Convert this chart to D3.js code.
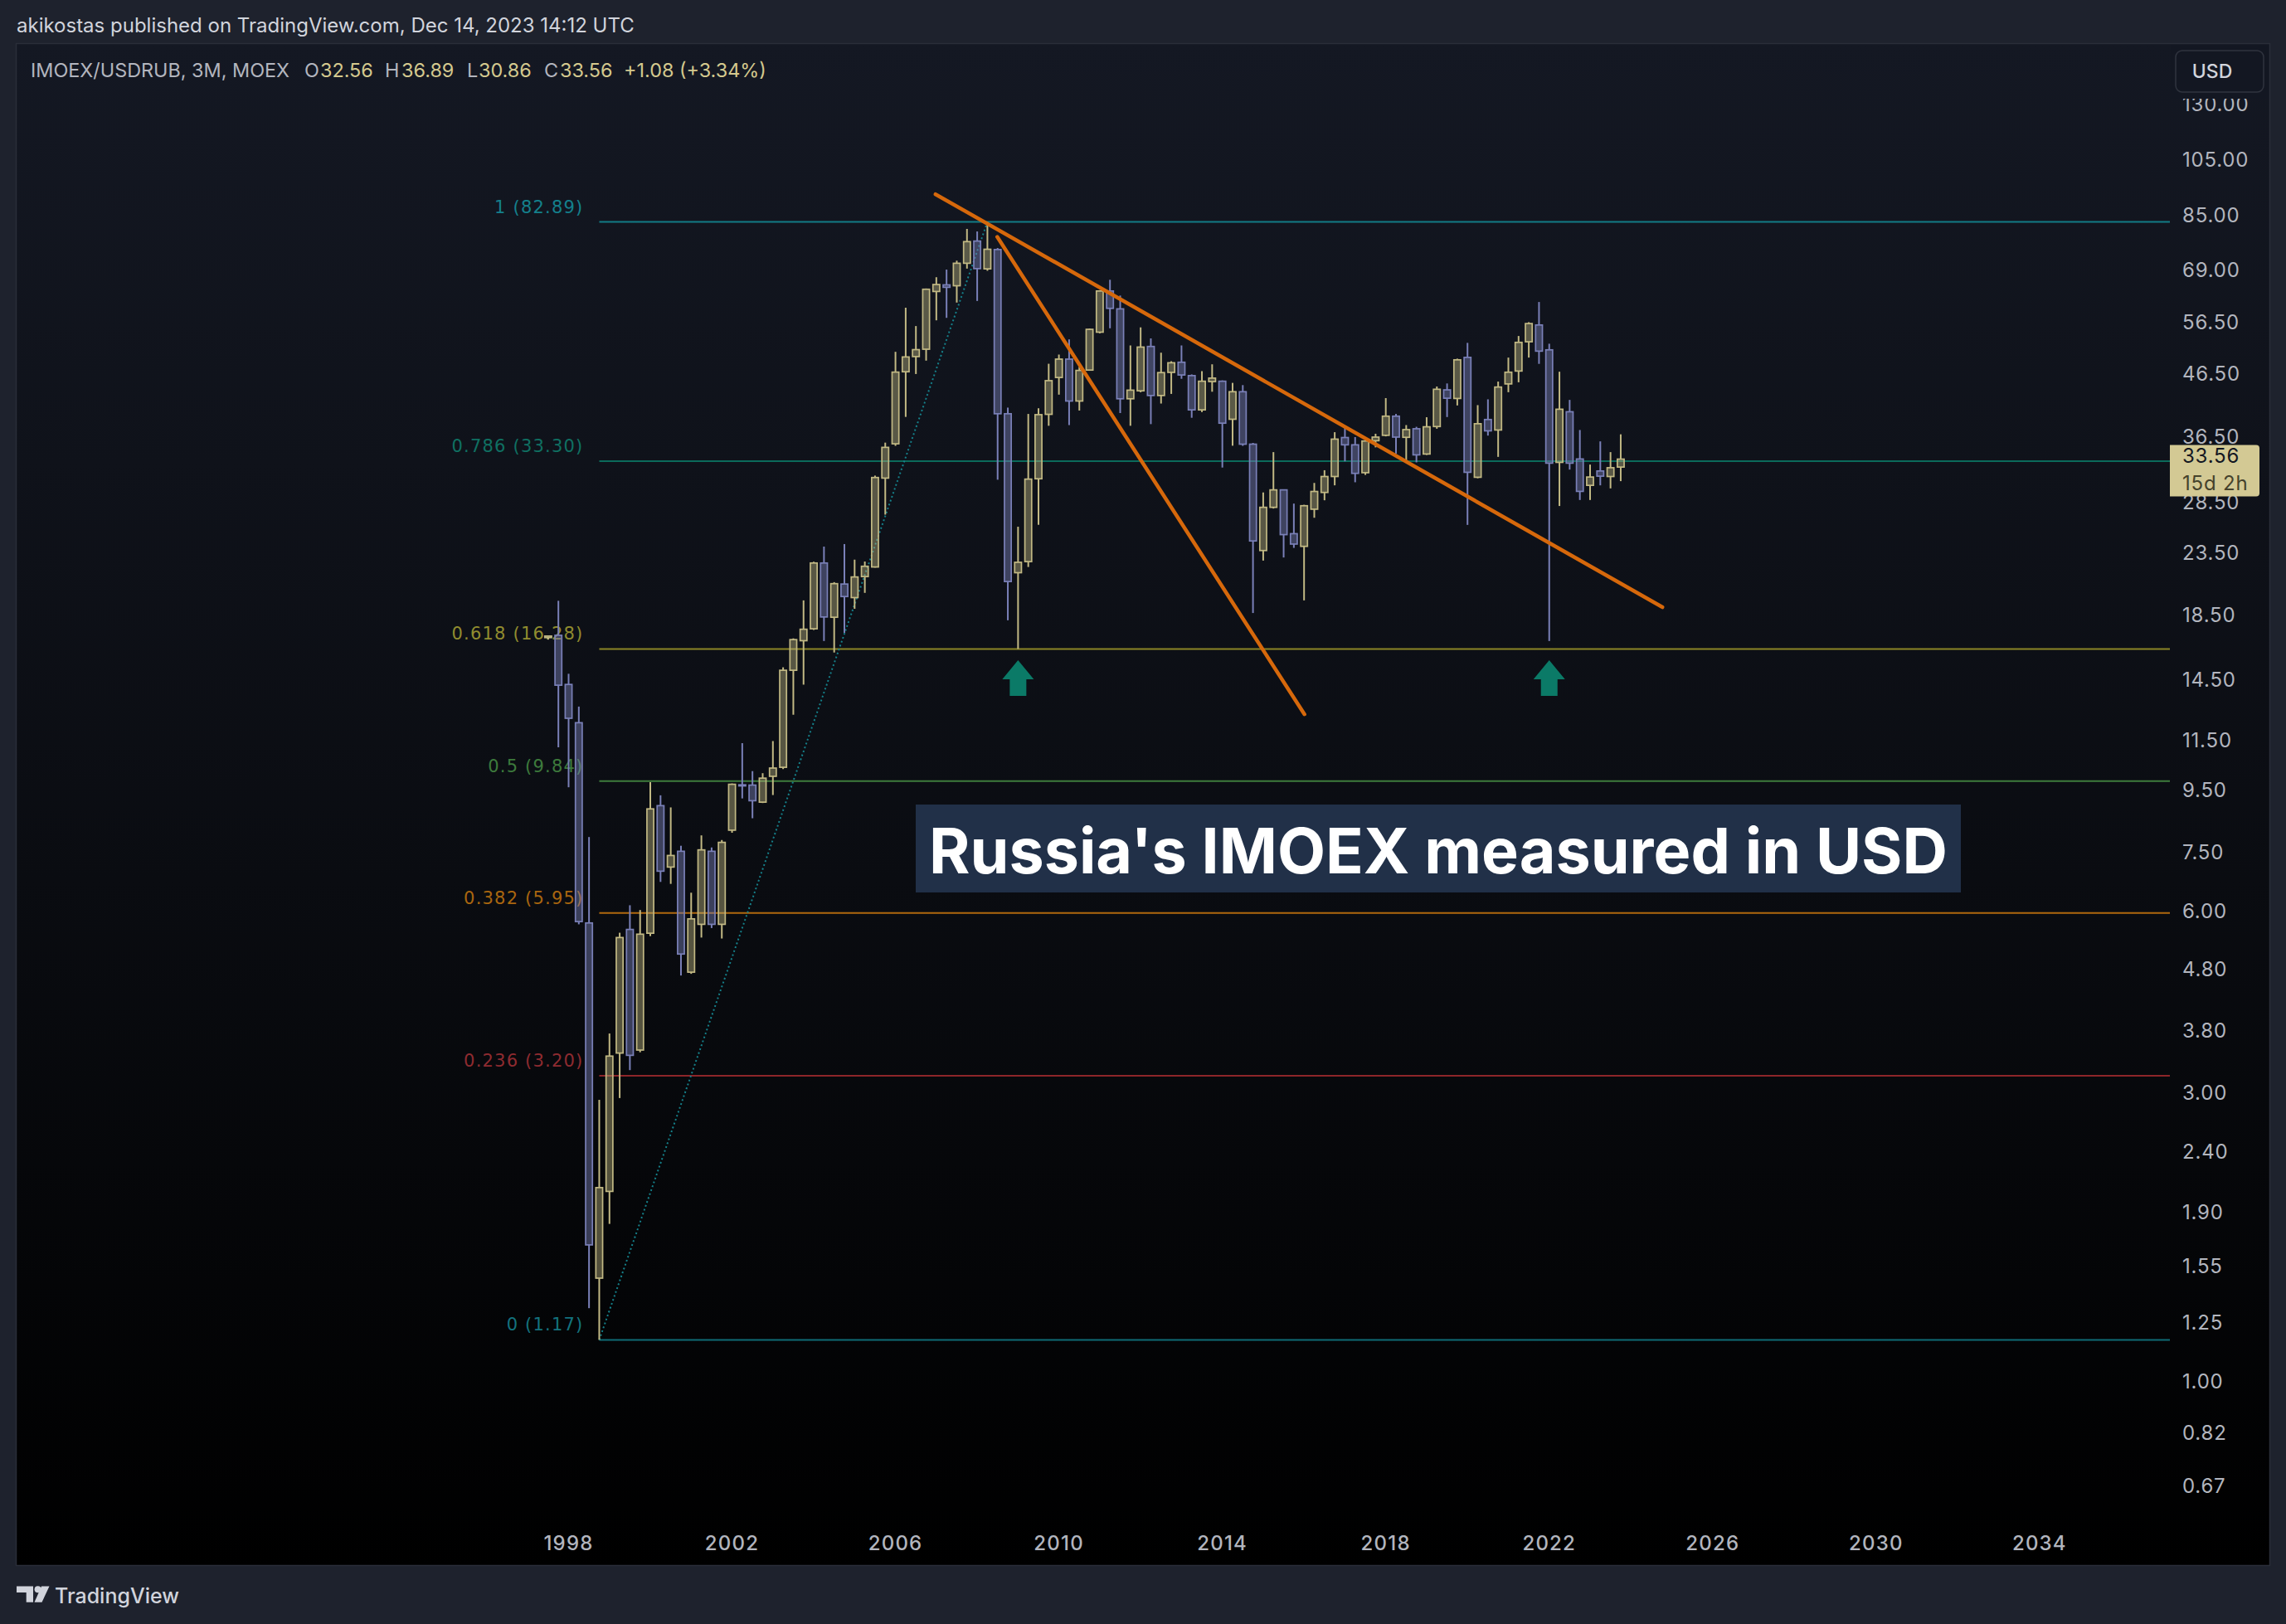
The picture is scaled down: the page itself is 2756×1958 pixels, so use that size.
<!DOCTYPE html>
<html><head><meta charset="utf-8">
<script src="https://cdn.jsdelivr.net/npm/d3@7"></script>
<style>html,body{margin:0;padding:0;background:#1e222d;} svg{display:block;}</style>
</head><body><svg id="c" width="2756" height="1958"></svg>
<script>
// ---------------- DATA ----------------
const quarters = ["1997Q3","1997Q4","1998Q1","1998Q2","1998Q3","1998Q4","1999Q1","1999Q2","1999Q3","1999Q4",
"2000Q1","2000Q2","2000Q3","2000Q4","2001Q1","2001Q2","2001Q3","2001Q4","2002Q1","2002Q2","2002Q3","2002Q4",
"2003Q1","2003Q2","2003Q3","2003Q4","2004Q1","2004Q2","2004Q3","2004Q4","2005Q1","2005Q2","2005Q3","2005Q4",
"2006Q1","2006Q2","2006Q3","2006Q4","2007Q1","2007Q2","2007Q3","2007Q4","2008Q1","2008Q2","2008Q3","2008Q4",
"2009Q1","2009Q2","2009Q3","2009Q4","2010Q1","2010Q2","2010Q3","2010Q4","2011Q1","2011Q2","2011Q3","2011Q4",
"2012Q1","2012Q2","2012Q3","2012Q4","2013Q1","2013Q2","2013Q3","2013Q4","2014Q1","2014Q2","2014Q3","2014Q4",
"2015Q1","2015Q2","2015Q3","2015Q4","2016Q1","2016Q2","2016Q3","2016Q4","2017Q1","2017Q2","2017Q3","2017Q4",
"2018Q1","2018Q2","2018Q3","2018Q4","2019Q1","2019Q2","2019Q3","2019Q4","2020Q1","2020Q2","2020Q3","2020Q4",
"2021Q1","2021Q2","2021Q3","2021Q4","2022Q1","2022Q2","2022Q3","2022Q4","2023Q1","2023Q2","2023Q3","2023Q4"];
const opens = [17.0,17.15,14.22,12.29,5.73,1.48,2.06,3.49,5.59,3.53,
5.51,8.96,7.09,7.53,4.75,5.70,7.53,5.70,8.16,9.70,9.69,9.08,
10.02,10.37,15.01,16.80,17.58,22.59,18.37,20.85,19.80,21.45,22.25,31.22,
35.58,46.82,49.61,51.02,63.58,65.20,64.98,70.80,77.05,69.30,74.60,39.90,
21.77,22.71,31.14,39.81,45.81,49.13,41.88,47.12,54.45,63.70,59.50,42.24,
43.54,51.56,42.77,46.71,48.55,46.14,40.49,45.10,45.16,39.07,43.39,35.53,
23.69,27.93,29.85,25.26,24.07,27.73,29.56,31.41,36.44,35.44,31.87,36.00,
36.75,39.53,36.47,37.68,34.22,38.00,43.70,42.29,49.46,31.32,39.03,37.50,
44.70,46.95,52.49,55.96,50.90,33.15,40.20,33.58,30.37,32.08,31.41,32.56];
const highs = [17.14,19.56,14.81,13.07,7.95,2.92,3.76,5.52,6.13,6.02,
9.80,9.32,8.90,7.69,6.43,8.00,7.64,7.86,9.75,11.37,10.22,10.14,
11.46,15.18,16.95,19.59,22.70,24.05,21.00,24.28,22.88,22.72,31.52,35.74,
50.52,59.77,55.73,64.30,67.13,69.11,71.50,80.70,79.92,82.89,75.03,40.84,
25.94,39.87,40.74,48.27,49.99,52.97,47.69,55.20,63.90,66.48,62.60,51.76,
55.45,53.17,50.35,48.74,51.76,46.35,46.93,48.17,45.30,44.88,44.50,35.70,
29.56,34.47,29.90,28.33,28.20,30.65,32.17,37.19,37.88,36.50,36.10,36.97,
42.35,39.87,38.21,37.96,39.37,44.26,44.78,49.22,52.27,41.23,42.15,45.10,
49.42,53.66,56.56,61.08,52.10,46.83,42.06,37.50,32.87,35.91,34.47,36.89];
const lows = [16.87,11.19,9.61,5.70,1.32,1.17,1.82,2.94,3.27,3.50,
5.45,6.70,6.65,4.69,4.72,5.42,5.62,5.40,8.08,9.21,8.54,9.05,
9.33,10.30,12.67,14.21,17.50,16.78,16.06,17.31,18.97,20.16,22.20,27.16,
35.30,39.42,46.42,48.85,56.96,57.50,60.95,69.37,61.32,68.80,31.03,18.16,
16.28,22.25,26.13,38.11,42.91,38.21,40.39,47.00,54.20,55.26,40.00,38.11,
43.30,38.35,41.48,43.03,45.58,39.29,40.15,43.39,32.50,35.32,35.30,18.67,
22.80,27.80,23.07,23.93,19.59,26.84,28.69,30.37,33.28,30.73,31.60,35.10,
36.60,34.27,33.15,33.15,34.10,37.68,39.40,41.18,26.12,31.20,36.71,33.85,
43.31,44.98,49.42,48.25,16.78,28.07,32.25,28.72,28.72,30.37,30.02,30.86];
const closes = [17.1,14.18,12.50,5.76,1.68,2.09,3.45,5.42,3.46,5.49,
8.85,6.98,7.41,5.09,5.82,7.57,5.70,7.79,9.72,9.66,9.13,9.95,
10.34,15.01,16.87,17.55,22.59,18.39,20.88,19.88,21.42,22.31,31.29,35.10,
46.76,49.54,50.94,64.12,65.29,64.60,70.80,76.88,69.37,74.68,39.90,21.05,
22.65,31.10,39.76,45.26,49.13,41.88,47.06,55.04,63.70,59.62,42.24,43.65,
51.44,42.77,46.67,48.45,46.25,40.49,45.16,45.70,38.49,43.39,35.53,24.57,
27.93,29.85,25.17,24.28,28.10,29.67,31.41,36.22,35.44,31.79,35.96,36.50,
39.53,36.50,37.56,34.11,37.96,43.80,42.33,49.00,31.92,38.41,37.38,44.17,
46.74,52.37,56.26,50.65,33.05,40.59,33.05,29.68,31.35,31.45,32.48,33.564];

const priceTicks = [130,105,85,69,56.5,46.5,36.5,28.5,23.5,18.5,14.5,11.5,9.5,7.5,6.0,4.8,3.8,3.0,2.4,1.9,1.55,1.25,1.0,0.82,0.67];
const yearTicks = [1998,2002,2006,2010,2014,2018,2022,2026,2030,2034];

const fibLevels = ["1","0.786","0.618","0.5","0.382","0.236","0"];
const fibPrices = [82.89,33.30,16.28,9.84,5.95,3.20,1.17];
const fibLineColors = ["#127c86","#0b6a5b","#8c8626","#3e7d3c","#b0690e","#8d2529","#0f6c76"];
const fibTextColors = ["#14808c","#0f7062","#918c2f","#3d7a3c","#a9660f","#8e2b30","#13727e"];
const fibStart = {t:"1998Q4", p:1.17};
const fibEnd = {t:"2008Q2", p:82.89};

const trendStartT = [2006.98, 2008.49];
const trendStartP = [92.1, 78.3];
const trendEndT = [2024.77, 2016.01];
const trendEndP = [19.09, 12.69];

const arrowQuarters = ["2009Q1","2022Q1"];
const arrowPrice = 15.6;

const headerText = "akikostas published on TradingView.com, Dec 14, 2023 14:12 UTC";
const symbolText = "IMOEX/USDRUB, 3M, MOEX";
const titleText = "Russia's IMOEX measured in USD";
const countdownText = "15d 2h";

// ---------------- SETUP ----------------
const W = 2756, H = 1958;
const pane = {x0:20, y0:53, x1:2736, y1:1887};
const plotRight = 2616;
const svg = d3.select("#c");
const font = "Inter, 'Noto Sans', sans-serif";
const fmt = d3.format(".2f");
const qt = s => +s.slice(0,4) + (+s.slice(5)-1)/4;

const x = d3.scaleLinear().domain([1984.49, 2037.19]).range([pane.x0, plotRight]);
const y = d3.scaleLog().domain([0.4958, 163.3]).range([pane.y1, pane.y0]);

const defs = svg.append("defs");
const g = defs.append("linearGradient").attr("id","bg").attr("x1",0).attr("y1",0).attr("x2",0).attr("y2",1);
g.append("stop").attr("offset","0%").attr("stop-color","#141823");
g.append("stop").attr("offset","55%").attr("stop-color","#0a0c11");
g.append("stop").attr("offset","100%").attr("stop-color","#000000");
defs.append("clipPath").attr("id","plotclip").append("rect")
  .attr("x",pane.x0).attr("y",pane.y0).attr("width",plotRight-pane.x0).attr("height",pane.y1-pane.y0);

svg.append("rect").attr("width",W).attr("height",H).attr("fill","#1e222d");
svg.append("rect").attr("x",pane.x0-0.5).attr("y",pane.y0-0.5).attr("width",pane.x1-pane.x0+1).attr("height",pane.y1-pane.y0+1)
  .attr("fill","url(#bg)").attr("stroke","#2a2e39").attr("stroke-width",1.5);

// header
svg.append("text").attr("x",20).attr("y",39).attr("font-family",font).attr("font-size",24)
  .attr("fill","#d1d4dc").text(headerText);

// legend
const last = quarters.length-1;
const chg = closes[last]-closes[last-1];
const pct = chg/closes[last-1]*100;
const leg = svg.append("text").attr("y",93).attr("font-family",font).attr("font-size",23.4);
const legParts = [
  [37, symbolText, "#b2b5be"],
  [367, "O", "#b2b5be"], [386, fmt(opens[last]), "#d4c98e"],
  [464, "H", "#b2b5be"], [484, fmt(highs[last]), "#d4c98e"],
  [563, "L", "#b2b5be"], [577, fmt(lows[last]), "#d4c98e"],
  [656, "C", "#b2b5be"], [675, fmt(closes[last]), "#d4c98e"],
  [752, (chg>=0?"+":"")+fmt(chg)+" ("+(pct>=0?"+":"")+fmt(pct)+"%)", "#d4c98e"]
];
legParts.forEach(p=>leg.append("tspan").attr("x",p[0]).attr("fill",p[2]).text(p[1]));

// ---------------- FIB ----------------
const fx0 = x(qt(fibStart.t));
const fib = svg.append("g");
fib.selectAll("line").data(fibPrices).join("line")
  .attr("x1",fx0).attr("x2",plotRight).attr("y1",d=>y(d)).attr("y2",d=>y(d))
  .attr("stroke",(d,i)=>fibLineColors[i]).attr("stroke-width",2);
fib.selectAll("text").data(fibPrices).join("text")
  .attr("x",fx0-19).attr("y",d=>y(d)-11).attr("text-anchor","end")
  .attr("font-family","'DejaVu Sans', sans-serif").attr("font-size",21).attr("letter-spacing",1.2)
  .attr("fill",(d,i)=>fibTextColors[i]).text((d,i)=>fibLevels[i]+" ("+fmt(d)+")");
fib.append("line").attr("x1",fx0).attr("y1",y(fibStart.p)).attr("x2",x(qt(fibEnd.t))).attr("y2",y(fibEnd.p))
  .attr("stroke","#15808a").attr("stroke-width",2).attr("stroke-dasharray","2 3");

// ---------------- CANDLES ----------------
const bull = {stroke:"#c2b984", fill:"rgba(194,185,132,0.42)"};
const bear = {stroke:"#7a80b8", fill:"rgba(122,128,184,0.45)"};
const candles = quarters.map((q,i)=>({t:qt(q), o:opens[i], h:highs[i], l:lows[i], c:closes[i]}));
const cg = svg.append("g").attr("clip-path","url(#plotclip)");
const bw = 8.2;
const cs = cg.selectAll("g").data(candles).join("g");
cs.each(function(d){
  const s = d.c>=d.o ? bull : bear;
  const el = d3.select(this);
  const cx = x(d.t);
  const top = y(Math.max(d.o,d.c)), bot = y(Math.min(d.o,d.c));
  el.append("line").attr("x1",cx).attr("x2",cx).attr("y1",y(d.h)).attr("y2",top)
    .attr("stroke",s.stroke).attr("stroke-width",2);
  el.append("line").attr("x1",cx).attr("x2",cx).attr("y1",bot).attr("y2",y(d.l))
    .attr("stroke",s.stroke).attr("stroke-width",2);
  el.append("rect").attr("x",cx-bw/2).attr("y",top).attr("width",bw).attr("height",Math.max(bot-top,1))
    .attr("fill",s.fill).attr("stroke",s.stroke).attr("stroke-width",1.7);
});

// ---------------- TREND LINES ----------------
const tl = svg.append("g");
tl.selectAll("line").data(trendStartT).join("line")
  .attr("x1",(d)=>x(d)).attr("y1",(d,i)=>y(trendStartP[i]))
  .attr("x2",(d,i)=>x(trendEndT[i])).attr("y2",(d,i)=>y(trendEndP[i]))
  .attr("stroke","#d6680b").attr("stroke-width",4.5).attr("stroke-linecap","round");

// arrows
const ar = svg.append("g");
arrowQuarters.forEach(q=>{
  const ax = x(qt(q)), ay = y(arrowPrice);
  ar.append("path").attr("d",
    `M${ax},${ay} L${ax+19},${ay+23} L${ax+10},${ay+23} L${ax+10},${ay+43} L${ax-10},${ay+43} L${ax-10},${ay+23} L${ax-19},${ay+23} Z`)
    .attr("fill","#0b7a67");
});

// ---------------- AXES ----------------
const ya = svg.append("g");
ya.selectAll("text").data(priceTicks).join("text")
  .attr("x",2631).attr("y",d=>y(d)+8.5).attr("font-family",font).attr("font-size",24).attr("letter-spacing",0.8)
  .attr("fill","#b2b5be").text(d=>fmt(d));
const xa = svg.append("g");
xa.selectAll("text").data(yearTicks).join("text")
  .attr("x",d=>x(d)).attr("y",1869).attr("text-anchor","middle").attr("font-family",font)
  .attr("font-size",24).attr("letter-spacing",1.2).attr("font-weight",500).attr("fill","#b2b5be").text(d=>d);

// USD button (with backing that hides labels beneath it)
svg.append("rect").attr("x",2617).attr("y",54).attr("width",118).attr("height",65).attr("fill","#131722");
svg.append("rect").attr("x",2623).attr("y",61).attr("width",106).attr("height",50).attr("rx",8)
  .attr("fill","#131722").attr("stroke","#30343f").attr("stroke-width",1.5);
svg.append("text").attr("x",2667).attr("y",94).attr("text-anchor","middle").attr("font-family",font)
  .attr("font-size",23).attr("font-weight",500).attr("fill","#d1d4dc").text("USD");

// last price label
const ly = y(closes[last]);
svg.append("path").attr("d",`M${plotRight},${ly-17} H${2720} Q2724,${ly-17} 2724,${ly-13} V${ly+41} Q2724,${ly+45} 2720,${ly+45} H${plotRight} Z`)
  .attr("fill","#d3c994");
svg.append("text").attr("x",2631).attr("y",ly+4).attr("font-family",font).attr("font-size",24).attr("letter-spacing",0.8)
  .attr("fill","#131722").text(fmt(closes[last]));
svg.append("text").attr("x",2631).attr("y",ly+37).attr("font-family",font).attr("font-size",24).attr("letter-spacing",0.8)
  .attr("fill","#45422c").text(countdownText);

// ---------------- TITLE BOX ----------------
svg.append("rect").attr("x",1104).attr("y",970).attr("width",1260).attr("height",106).attr("fill","#213048");
const tt = svg.append("text").attr("x",1734).attr("y",1053).attr("text-anchor","middle")
  .attr("font-family",font).attr("font-weight",700).attr("font-size",78).attr("fill","#ffffff").text(titleText);
const tw = tt.node().getComputedTextLength();
tt.attr("font-size", 78*1228/tw);

// ---------------- FOOTER ----------------
const logo = svg.append("g").attr("fill","#d1d4dc");
logo.append("path").attr("d","M20,1912.5 H40 V1931.7 H31.7 V1920 H20 Z");
logo.append("circle").attr("cx",45.6).attr("cy",1916.3).attr("r",4);
logo.append("path").attr("d","M50,1912.5 H59.5 L50.5,1931.7 H41.5 Z");
svg.append("text").attr("x",66).attr("y",1932.5).attr("font-family",font).attr("font-size",25)
  .attr("font-weight",500).attr("fill","#d1d4dc").text("TradingView");
</script></body></html>
